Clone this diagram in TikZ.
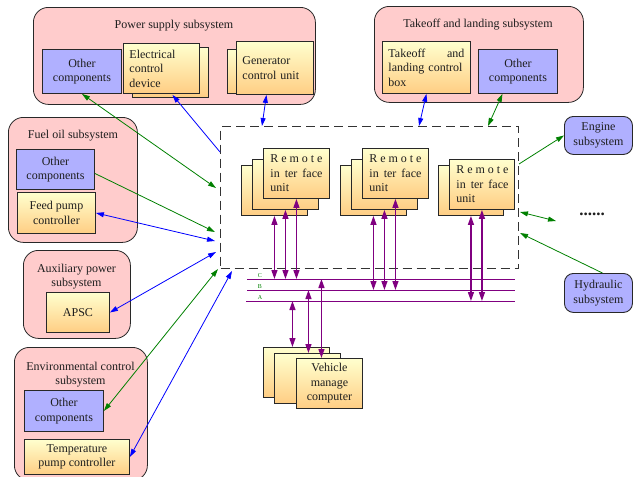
\documentclass[tikz,border=0pt]{standalone}
\usepackage{fontspec}
\setmainfont{Liberation Serif}
\usetikzlibrary{arrows.meta,calc}
\definecolor{pinkfill}{RGB}{255,204,204}
\definecolor{lav}{RGB}{176,176,255}
\definecolor{ytop}{RGB}{255,255,206}
\definecolor{ybot}{RGB}{255,206,132}
\definecolor{edge}{RGB}{40,40,40}
\definecolor{linkblue}{RGB}{0,0,255}
\definecolor{linkgreen}{RGB}{0,128,0}
\definecolor{buscol}{RGB}{128,0,128}
\definecolor{txt}{RGB}{30,30,30}
\newcommand\riutext{\makebox[52pt][s]{R\hfill e\hfill m\hfill o\hfill t\hfill e}\\
  \makebox[52pt][s]{in\hfill ter\hfill face}\\unit}
\newcommand\vmctext{Vehicle\\manage\\computer}
\tikzset{
  smalltri/.tip={Triangle[length=8pt,width=5pt]},
  bigtri/.tip={Triangle[length=9pt,width=6pt]}
}
\begin{document}
\begin{tikzpicture}[x=1pt,y=-1pt,
  font=\fontsize{12}{14.5}\selectfont, text=txt,
  group/.style={draw=edge, fill=pinkfill, rounded corners=15pt, line width=0.8pt,
    rectangle, anchor=north west, inner sep=0pt},
  unitbox/.style={draw=edge, line width=0.9pt, top color=ytop, bottom color=ybot,
    rectangle, anchor=north west, inner sep=0pt, inner xsep=6pt},
  compbox/.style={draw=edge, line width=0.9pt, fill=lav, rectangle,
    anchor=north west, inner sep=0pt, align=center},
  extbox/.style={draw=edge, line width=0.9pt, fill=lav, rectangle, rounded corners=9pt,
    anchor=north west, inner sep=0pt, align=center},
  riu/.style={unitbox, minimum width=66, minimum height=50, inner xsep=7pt,
    text width=52pt, align=left},
  vmc/.style={unitbox, minimum width=66, minimum height=50, align=center},
  link/.style={line width=0.8pt},
  one/.style={link, -{smalltri}},
  both/.style={link, {smalltri}-{smalltri}},
  busline/.style={draw=buscol, line width=1pt},
  busarrow/.style={draw=buscol, line width=1.3pt, {bigtri}-{bigtri}},
  buslabel/.style={text=linkgreen, font=\fontsize{6}{6}\selectfont, inner sep=0pt},
  title/.style={align=center, inner sep=0pt}
]
\useasboundingbox (0,0) rectangle (633,477);
\clip (0,0) rectangle (633,477);

% ---------- power supply subsystem ----------
\node[group, minimum width=282, minimum height=97] (ps) at (33,7) {};
\node[title] (pst) at (174,26) {Power supply subsystem};
\node[compbox, minimum width=79, minimum height=44] (psoc) at (42,49) {Other\\components};
\node[unitbox, minimum width=76, minimum height=50] (ecdb) at (132,47) {};
\node[unitbox, minimum width=76, minimum height=50, text width=64pt, align=left] (ecd) at (123,43) {Electrical\\control\\device};
\node[unitbox, minimum width=77, minimum height=44] (gcub) at (227,49) {};
\node[unitbox, minimum width=77, minimum height=53, text width=65pt, align=left] (gcu) at (236,41) {Generator\\control unit};

% ---------- takeoff and landing subsystem ----------
\node[group, minimum width=209, minimum height=96] (tl) at (374,6) {};
\node[title] (tlt) at (478,25) {Takeoff and landing subsystem};
\node[unitbox, minimum width=88, minimum height=52, text width=76pt, align=left] (tlc) at (382,41)
  {\makebox[76pt][s]{Takeoff\hfill and}\\landing control\\box};
\node[compbox, minimum width=79, minimum height=44] (tloc) at (478,49) {Other\\components};

% ---------- fuel oil subsystem ----------
\node[group, minimum width=129, minimum height=125] (fo) at (8,117) {};
\node[title] (fot) at (73,136) {Fuel oil subsystem};
\node[compbox, minimum width=78, minimum height=40] (fooc) at (16,149) {Other\\components};
\node[unitbox, minimum width=78, minimum height=41, align=center] (fpc) at (17,192) {Feed pump\\controller};

% ---------- auxiliary power subsystem ----------
\node[group, minimum width=107, minimum height=88] (ap) at (23,250) {};
\node[title] (apt) at (76.5,276.5) {Auxiliary power\\subsystem};
\node[unitbox, minimum width=63, minimum height=40, align=center] (apsc) at (46,292) {APSC};

% ---------- environmental control subsystem ----------
\node[group, minimum width=133, minimum height=133] (ec) at (14,347) {};
\node[title] (ect) at (80.5,374.5) {Environmental control\\subsystem};
\node[compbox, minimum width=79, minimum height=41] (ecoc) at (24,390) {Other\\components};
\node[unitbox, minimum width=105, minimum height=35, align=center] (tpc) at (24,439)
  {Temperature\\pump controller};

% ---------- external subsystems ----------
\node[extbox, minimum width=68, minimum height=38] (eng) at (564,116) {Engine\\subsystem};
\node[extbox, minimum width=68, minimum height=39] (hyd) at (564,273) {Hydraulic\\subsystem};
\node[inner sep=0pt, font=\fontsize{17}{17}\selectfont\bfseries] (more) at (592,214) {......};

% ---------- remote interface units ----------
\node[draw=black!80, line width=1pt, dash pattern=on 9pt off 5pt, rectangle,
  anchor=north west, minimum width=298, minimum height=142, inner sep=0pt] (hub) at (220,126) {};
\node[riu] (r1c) at (241,165) {};
\node[riu] (r1b) at (252,159) {};
\node[riu] (r1a) at (263,148) {\riutext};
\node[riu] (r2c) at (340,165) {};
\node[riu] (r2b) at (351,159) {};
\node[riu] (r2a) at (362,148) {\riutext};
\node[riu, minimum width=65, text width=51pt] (r3b) at (438,165) {};
\node[riu, minimum width=65, text width=51pt] (r3a) at (449,159) {\riutext};

% ---------- buses ----------
\draw[busline] (247,279) coordinate (cL) -- (515,279) coordinate (cR);
\draw[busline] (247,290) coordinate (bL) -- (515,290) coordinate (bR);
\draw[busline] (246,301) coordinate (aL) -- (515,301) coordinate (aR);
\node[buslabel] (lc) at (260,275.5) {C};
\node[buslabel] (lb) at (260,286.5) {B};
\node[buslabel] (la) at (260,297.5) {A};

% ---------- vehicle manage computer ----------
\node[vmc] (vc) at (263,347) {};
\node[vmc] (vb) at (274,353) {};
\node[vmc] (va) at (296,358) {\vmctext};

% ---------- bus connections ----------
\foreach \u in {r1c,r1b,r1a}
  \draw[busarrow] (\u.south) -- (\u.south |- cL);
\foreach \u in {r2c,r2b,r2a}
  \draw[busarrow] (\u.south) -- (\u.south |- bL);
\foreach \u in {r3b,r3a}
  \draw[busarrow] (\u.south) -- (\u.south |- aL);
\coordinate (v1) at ($(vc.north)+(-4,0)$);
\coordinate (v2) at ($(vb.north)+(1,0)$);
\coordinate (v3) at ($(va.north)+(-8,0)$);
\draw[busarrow] (v1) -- (v1 |- aL);
\draw[busarrow] (v2) -- (v2 |- bL);
\draw[busarrow] (v3) -- (v3 |- cL);

% ---------- free ends at the interface frame ----------
\coordinate (h1) at (216,188);
\coordinate (h2) at (220,152);
\coordinate (h3) at (262,126);
\coordinate (h4) at (419,126);
\coordinate (h5) at (488,126);
\coordinate (h6) at (519,164);
\coordinate (h7) at (520,212);
\coordinate (h8) at (556,221);
\coordinate (h9) at (520,233);
\coordinate (h10) at (215,232);
\coordinate (h11) at (215,241);
\coordinate (h12) at (216,252);
\coordinate (h13) at (218,269);
\coordinate (h14) at (232,271);

% ---------- subsystem links ----------
\draw[both, linkgreen] (psoc.south) -- (h1);
\draw[one, linkblue] (h2) -- ($(ecd.south)+(11,1)$);
\draw[both, linkblue] ($(gcu.south)+(-8.5,0)$) -- (h3);
\draw[both, linkblue] (tlc.south) -- (h4);
\draw[both, linkgreen] ($(tloc.south)+(-15.5,0)$) -- (h5);
\draw[one, linkgreen] (h6) -- (eng.west);
\draw[both, linkgreen] (h7) -- (h8);
\draw[one, linkgreen] ($(hyd.north)+(4,0)$) -- (h9);
\draw[one, linkgreen] ($(fooc.east)+(0,4)$) -- (h10);
\draw[both, linkblue] (fpc.east) -- (h11);
\draw[both, linkblue] (apsc.east) -- (h12);
\draw[both, linkgreen] (ecoc.east) -- (h13);
\draw[both, linkblue] (tpc.east) -- (h14);
\end{tikzpicture}
\end{document}
